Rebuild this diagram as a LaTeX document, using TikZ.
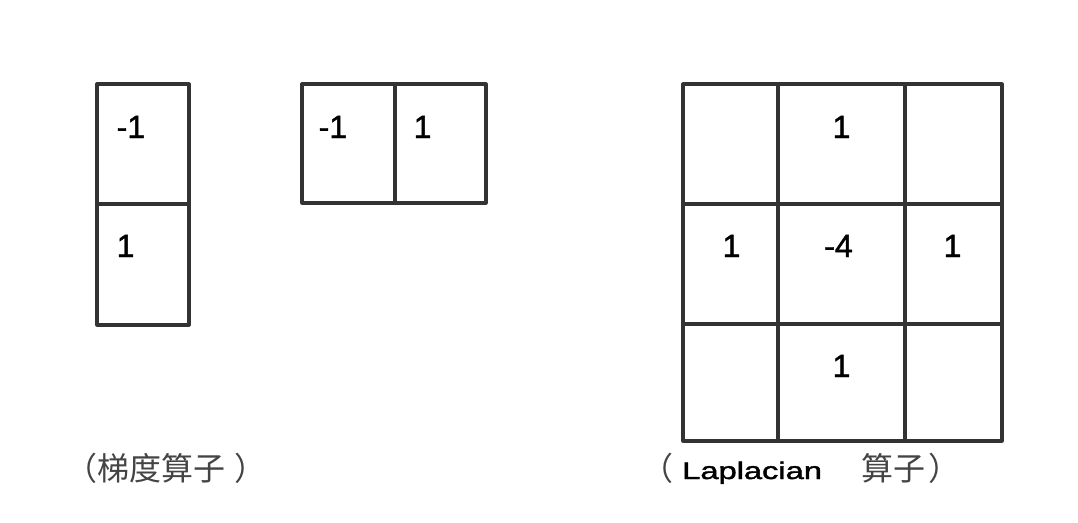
\documentclass[tikz,border=0pt]{standalone}
\usepackage{fontspec}
\setmainfont{Liberation Sans}
\newfontfamily\numfont[FakeBold=1.5]{Liberation Sans}
\newfontfamily\cjk{Noto Sans CJK SC}
\definecolor{gridline}{HTML}{333333}
\definecolor{cjkgray}{HTML}{444444}
\begin{document}
\begin{tikzpicture}[x=1pt,y=-1pt,
  cellline/.style={draw=gridline,line width=3.2pt,line join=round},
  num/.style={inner sep=0pt,font=\fontsize{32}{38}\selectfont\numfont,text=black},
  numl/.style={num,anchor=base west},
  numc/.style={num,anchor=base},
  captext/.style={inner sep=0pt,anchor=base west,font=\fontsize{32}{38}\selectfont\cjk,text=cjkgray},
  latcap/.style={inner sep=0pt,anchor=base west,font=\fontsize{24}{30}\selectfont\numfont,text=black,xscale=1.36}]
\useasboundingbox (0,0) rectangle (1078,522);
% vertical gradient kernel
\draw[cellline] (97,84) rectangle (189,325);
\draw[cellline] (97,204) -- (189,204);
\node[numl] (g1a) at (116.5,138) {-1};
\node[numl] (g1b) at (116.5,257) {1};
% horizontal gradient kernel
\draw[cellline] (302,84) rectangle (486,203);
\draw[cellline] (395,84) -- (395,203);
\node[numl] (g2a) at (318.5,138) {-1};
\node[numl] (g2b) at (413.5,138) {1};
% Laplacian kernel
\draw[cellline] (683,84) rectangle (1002,441);
\draw[cellline] (778,84) -- (778,441);
\draw[cellline] (905,84) -- (905,441);
\draw[cellline] (683,204) -- (1002,204);
\draw[cellline] (683,324) -- (1002,324);
\node[numc] (l12) at (841.5,138) {1};
\node[numc] (l21) at (731.5,257) {1};
\node[numc] (l22) at (838.5,257) {-4};
\node[numc] (l23) at (952.5,257) {1};
\node[numc] (l32) at (841.5,377) {1};
% captions
\node[captext] (capg) at (65.5,480) {（梯度算子\hspace{9pt}）};
\node[captext] (capl1) at (641.5,480) {（};
\node[latcap] (capl2) at (682,479) {Laplacian};
\node[captext] (capl3) at (861,480) {算子\hspace{3pt}）};
\end{tikzpicture}
\end{document}
